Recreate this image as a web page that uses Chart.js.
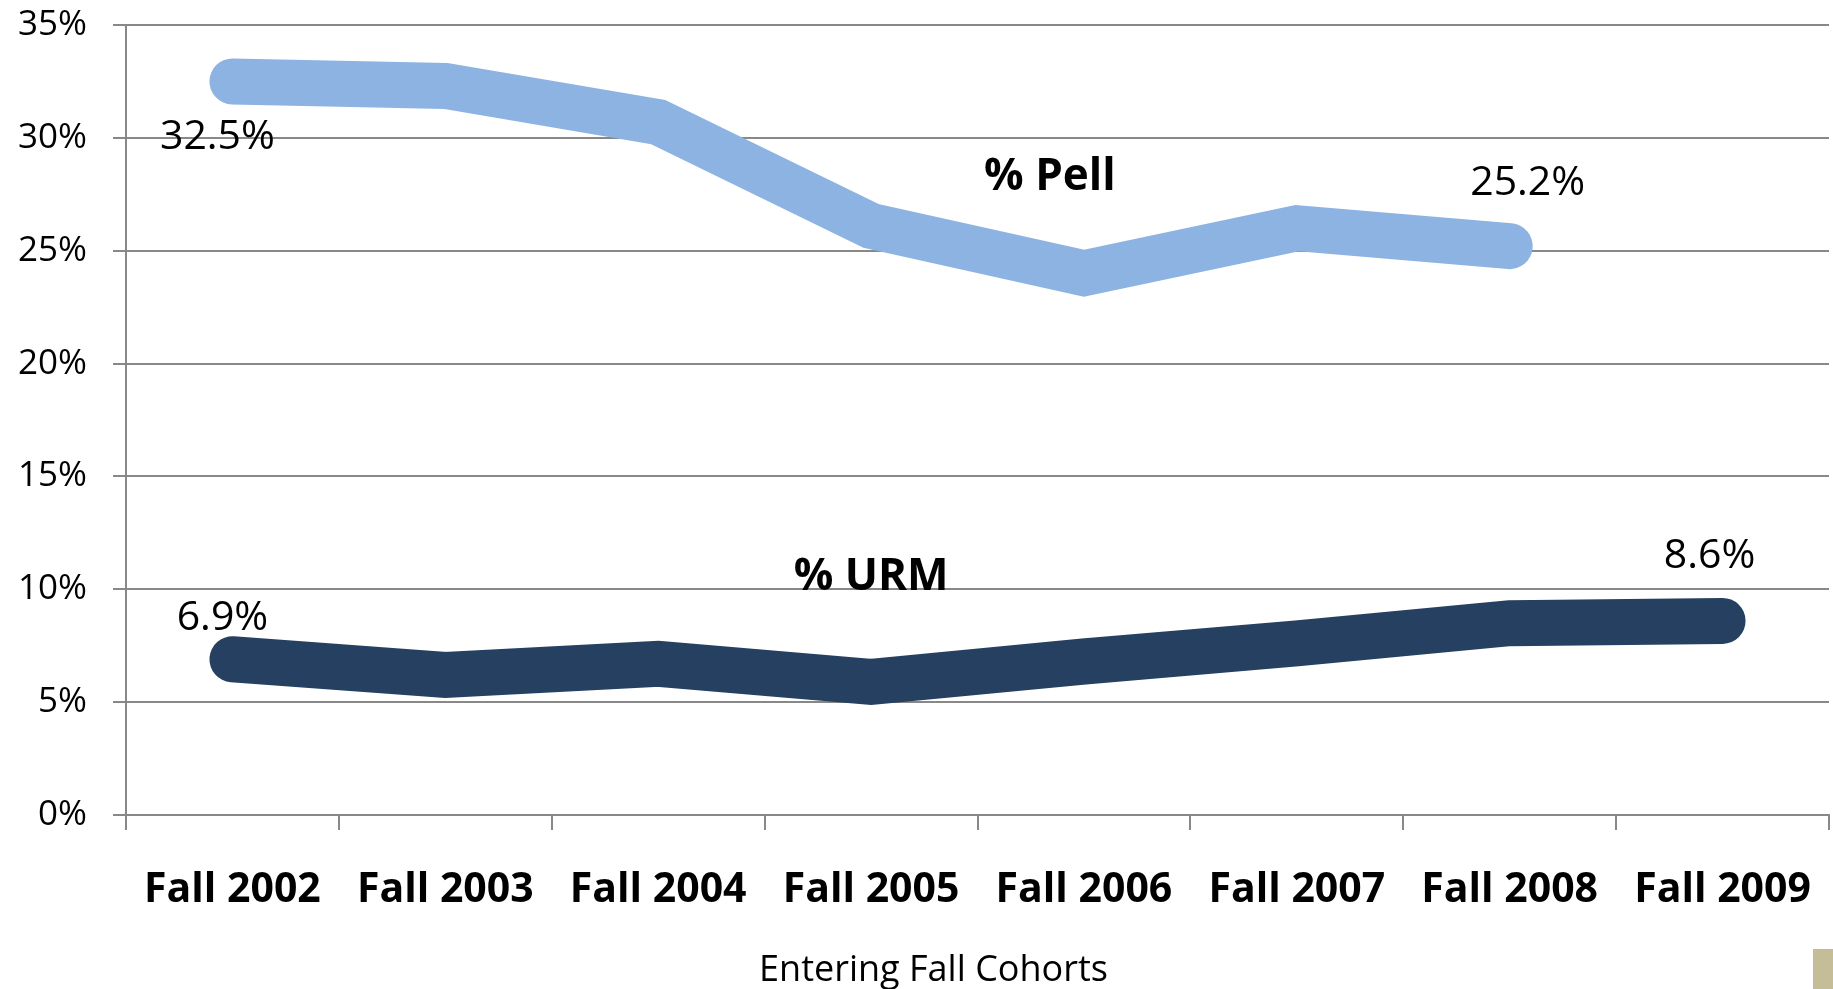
<!DOCTYPE html>
<html>
<head>
<meta charset="utf-8">
<script src="https://cdn.jsdelivr.net/npm/chart.js@4"></script>
<style>
  html, body { margin: 0; padding: 0; background: #fff; }
  #wrap { width: 1833px; height: 989px; }
</style>
</head>
<body>
<div id="wrap"><canvas id="cohortChart"></canvas></div>
<script>
// Dữ liệu biểu đồ
var cohorts = ["Fall 2002", "Fall 2003", "Fall 2004", "Fall 2005", "Fall 2006", "Fall 2007", "Fall 2008", "Fall 2009"];
var pellPct = [32.5, 32.3, 30.7, 26.1, 24.0, 26.0, 25.2, null];
var urmPct = [6.9, 6.2, 6.7, 5.9, 6.8, 7.6, 8.5, 8.6];
var yTicks = [0, 5, 10, 15, 20, 25, 30, 35];
var axisTitle = "Entering Fall Cohorts";

var FONT = "'Open Sans', 'DejaVu Sans', sans-serif";
var GRID = "#888888";

// nhãn giá trị: [dataset, index, dx, dy (baseline)]
var valueLabels = [
    [0, 0, -15, 68],
    [0, 6, 18, -51],
    [1, 0, -10, -29],
    [1, 7, -13, -53]
];
// tên chuỗi đặt trên biểu đồ: [text, index, value]
var seriesNames = [
    ["% Pell", 3.84, 27.7],
    ["% URM", 3.0, 9.95]
];

var labelPlugin = {
    id: "labelPlugin",
    afterDatasetsDraw: function (chart) {
        var ctx = chart.ctx;
        ctx.save();
        ctx.fillStyle = "#000";
        ctx.textAlign = "center";
        ctx.textBaseline = "alphabetic";
        ctx.font = "41px " + FONT;
        valueLabels.forEach(function (l) {
            var pt = chart.getDatasetMeta(l[0]).data[l[1]];
            var v = chart.data.datasets[l[0]].data[l[1]];
            ctx.fillText(v.toFixed(1) + "%", pt.x + l[2], pt.y + l[3]);
        });
        ctx.font = "bold 44px " + FONT;
        seriesNames.forEach(function (s) {
            var x = chart.scales.x.getPixelForValue(s[1]);
            var y = chart.scales.y.getPixelForValue(s[2]);
            ctx.fillText(s[0], x, y);
        });
        // tiêu đề trục x (lệch trái một chút như bản gốc)
        ctx.font = "36px " + FONT;
        ctx.fillText(axisTitle, chart.width / 2 + 17, chart.height - 8);
        // ô màu nhỏ ở góc dưới phải
        ctx.fillStyle = "#C4BD97";
        ctx.fillRect(chart.width - 20, chart.height - 40, 20, 40);
        ctx.restore();
    }
};

var ctx = document.getElementById('cohortChart').getContext('2d');
var myChart = new Chart(ctx, {
    type: "line",
    data: {
        labels: cohorts,
        datasets: [
            { label: "% Pell", data: pellPct, borderColor: "#8DB3E2", backgroundColor: "#8DB3E2" },
            { label: "% URM", data: urmPct, borderColor: "#264061", backgroundColor: "#264061" }
        ]
    },
    options: {
        responsive: true,
        maintainAspectRatio: false,
        animation: false,
        events: [],
        layout: { padding: { top: 25, right: 4, bottom: 0, left: 0 } },
        elements: {
            line: { borderWidth: 46, tension: 0, borderCapStyle: "round", borderJoinStyle: "miter" },
            point: { radius: 0, hoverRadius: 0 }
        },
        plugins: {
            legend: { display: false },
            tooltip: { enabled: false }
        },
        scales: {
            x: {
                offset: true,
                grid: { offset: true, drawOnChartArea: false, drawTicks: true, tickLength: 15, color: GRID, lineWidth: 2 },
                border: { display: true, color: GRID, width: 2 },
                ticks: { color: "#000", padding: 36, maxRotation: 0, font: { family: FONT, size: 41, weight: "bold" } },
                afterFit: function (axis) { axis.height = 174; axis.paddingLeft = 0; axis.paddingRight = 0; }
            },
            y: {
                min: 0,
                max: 35,
                afterBuildTicks: function (axis) { axis.ticks = yTicks.map(function (v) { return { value: v }; }); },
                grid: { color: GRID, lineWidth: 2, tickLength: 13 },
                border: { display: true, color: GRID, width: 2 },
                ticks: {
                    color: "#000", padding: 26, font: { family: FONT, size: 35 },
                    callback: function (v) { return v + "%"; }
                },
                afterFit: function (axis) { axis.width = 126; axis.paddingTop = 0; axis.paddingBottom = 0; }
            }
        }
    },
    plugins: [labelPlugin]
});
</script>
</body>
</html>
